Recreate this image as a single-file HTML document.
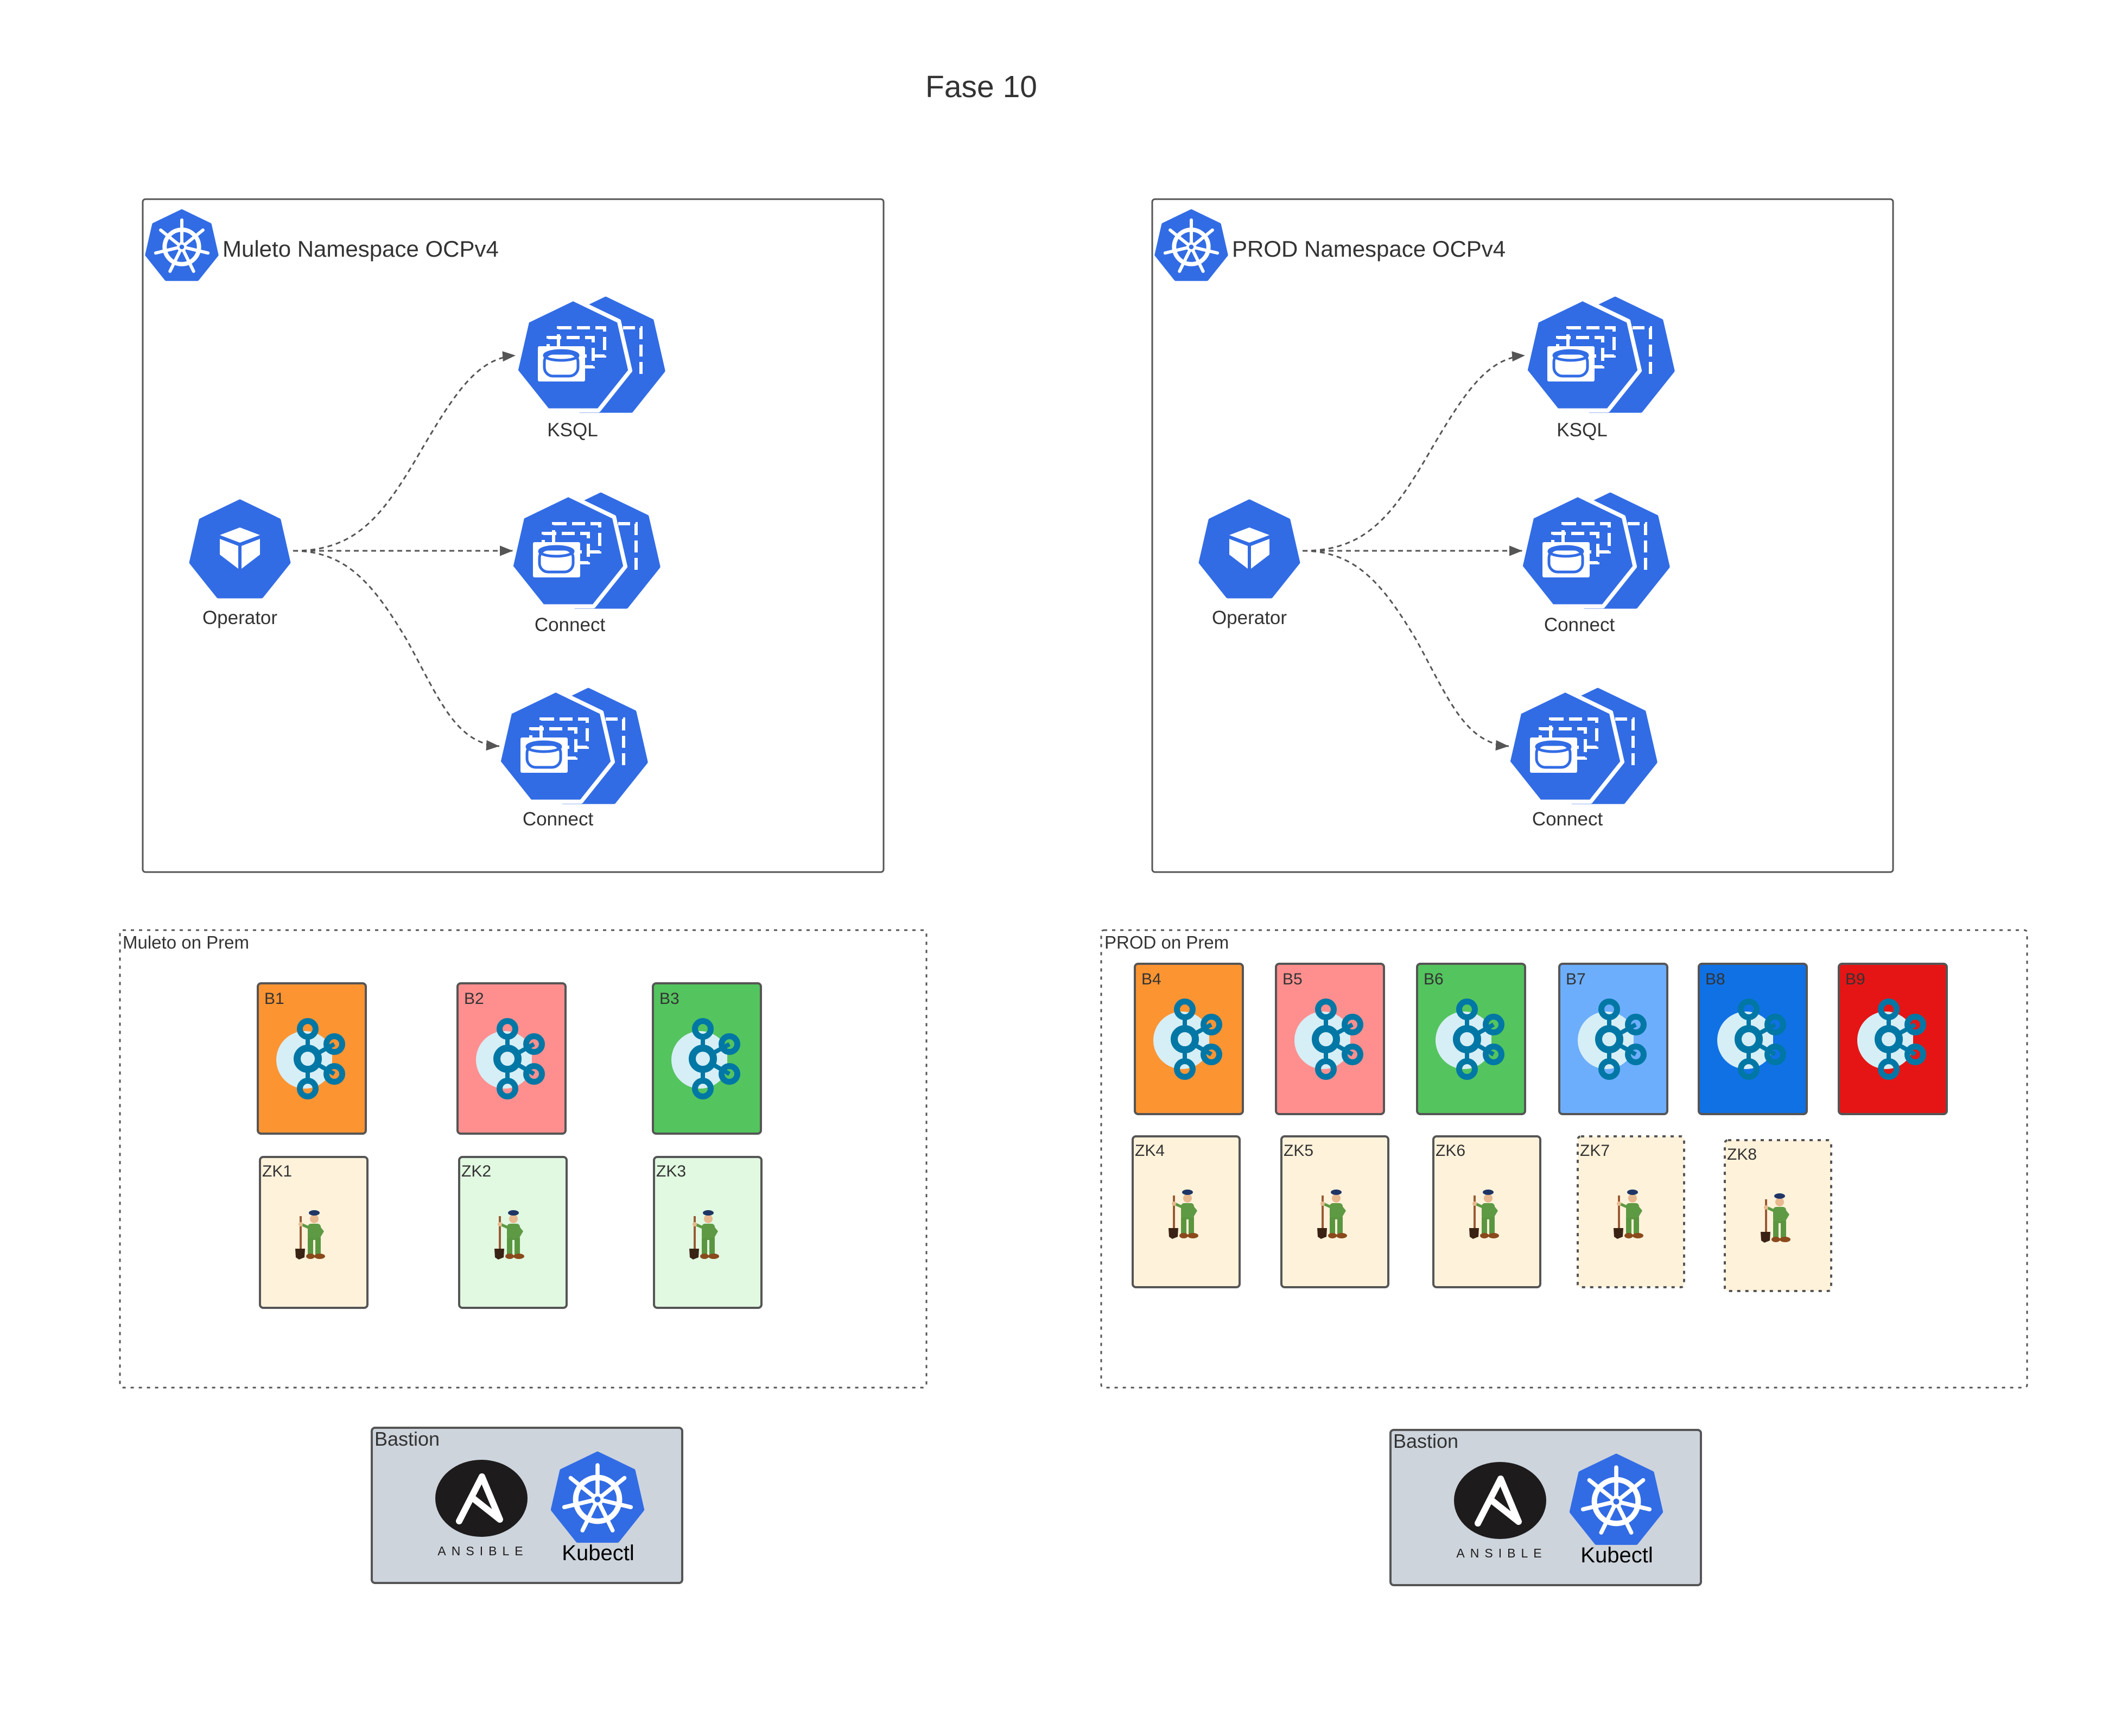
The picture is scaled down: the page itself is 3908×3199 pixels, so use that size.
<!DOCTYPE html>
<html><head><meta charset="utf-8"><style>
html,body{margin:0;padding:0;background:#fff}
svg{display:block}
text{font-family:"Liberation Sans",Arial,sans-serif;fill:#333}
</style></head><body>
<svg width="3908" height="3199" viewBox="0 0 3908 3199" xmlns="http://www.w3.org/2000/svg">
<defs>
<polygon id="h7" points="0,-1 0.7818,-0.6235 0.9749,0.2225 0.4339,0.901 -0.4339,0.901 -0.9749,0.2225 -0.7818,-0.6235"/>
<g id="wheel" fill="none" stroke="#fff" stroke-linecap="round">
<circle r="0.48" stroke-width="0.12"/>
<g stroke-width="0.09">
<line x1="0" y1="-0.1" x2="0" y2="-0.75"/>
<line x1="0.08" y1="-0.06" x2="0.59" y2="-0.47"/>
<line x1="0.1" y1="0.02" x2="0.73" y2="0.17"/>
<line x1="0.04" y1="0.09" x2="0.33" y2="0.68"/>
<line x1="-0.04" y1="0.09" x2="-0.33" y2="0.68"/>
<line x1="-0.1" y1="0.02" x2="-0.73" y2="0.17"/>
<line x1="-0.08" y1="-0.06" x2="-0.59" y2="-0.47"/>
</g>
<circle r="0.1" fill="#326ce5" stroke-width="0.07"/>
</g>
<g id="k8s">
<use href="#h7" fill="#326ce5" stroke="#326ce5" stroke-width="0.1" stroke-linejoin="round"/>
<use href="#wheel"/>
</g>
<g id="deploy">
<use href="#h7" transform="translate(60,0) scale(108)" fill="#326ce5" stroke="#326ce5" stroke-width="0.08" stroke-linejoin="round"/>
<g fill="none" stroke="#fff" stroke-width="6" stroke-dasharray="22,10">
<path d="M92,-55 H125 V35"/>
</g>
<use href="#h7" transform="scale(108)" fill="#326ce5" stroke="#fff" stroke-width="0.07" stroke-linejoin="round"/>
<g fill="none" stroke="#fff" stroke-width="6" stroke-dasharray="24,10">
<rect x="-27" y="-55" width="85" height="52"/>
<rect x="-46" y="-37" width="83" height="54"/>
</g>
<rect x="-65" y="-21" width="87" height="65" rx="3" fill="#fff"/>
<rect x="-53" y="-8" width="62" height="42" rx="16" fill="none" stroke="#326ce5" stroke-width="5"/>
<ellipse cx="-22" cy="-4" rx="31" ry="9" fill="none" stroke="#326ce5" stroke-width="5"/>
</g>
<g id="kafka">
<clipPath id="kc"><rect x="-70" y="-70" width="115" height="140"/></clipPath>
<circle cx="-5" cy="2" r="53" fill="#d6eef5" clip-path="url(#kc)"/>
<g fill="none" stroke="#0077a5">
<line x1="0" y1="-45" x2="0" y2="45" stroke-width="8"/>
<line x1="0" y1="0" x2="49" y2="-27" stroke-width="8"/>
<line x1="0" y1="0" x2="49" y2="28" stroke-width="8"/>
<circle r="19.5" stroke-width="13" fill="#d6eef5"/>
<circle cy="-55" r="14.5" stroke-width="11"/>
<circle cy="55" r="14.5" stroke-width="11"/>
<circle cx="49" cy="-27" r="14.5" stroke-width="11"/>
<circle cx="49" cy="28" r="14.5" stroke-width="11"/>
</g>
</g>
<g id="zk">
<line x1="-19" y1="-32" x2="-19" y2="30" stroke="#9a5a33" stroke-width="4"/>
<path d="M-29,28 L-11,28 L-12,44 L-22,48 L-28,44 Z" fill="#3a2314"/>
<rect x="-6" y="-18" width="24" height="30" rx="6" fill="#5e9a44"/>
<path d="M-5,-14 L-18,-20 L-20,-15 L-4,-8 Z" fill="#5e9a44"/>
<path d="M16,-14 L24,-4 L18,6 L14,0 Z" fill="#5e9a44"/>
<rect x="-6" y="8" width="10" height="32" fill="#5a9640"/>
<rect x="8" y="8" width="10" height="32" fill="#5a9640"/>
<ellipse cx="-1" cy="42" rx="8" ry="5" fill="#8a4a1c"/>
<ellipse cx="16" cy="42" rx="10" ry="5" fill="#8a4a1c"/>
<circle cx="6" cy="-27" r="8" fill="#e8b98f"/>
<ellipse cx="6" cy="-38" rx="10" ry="5" fill="#1f3565"/>
<circle cx="-19" cy="-17" r="4" fill="#e8b98f"/>
</g>
<marker id="ah" viewBox="0 0 10 10" refX="10" refY="5" markerWidth="24" markerHeight="24" markerUnits="userSpaceOnUse" orient="auto"><path d="M0,1 L10,5 L0,9 Z" fill="#555"/></marker>
<g id="nsbody">
<rect x="263" y="367" width="1365" height="1240" rx="5" fill="none" stroke="#555" stroke-width="3"/>
<use href="#k8s" transform="translate(335,455) scale(66)"/>
<g fill="none" stroke="#555" stroke-width="3" stroke-dasharray="9,7" marker-end="url(#ah)">
<path d="M540,1015 C650,1015 700,960 770,840 C840,720 880,660 950,655"/>
<path d="M540,1015 L945,1015"/>
<path d="M540,1015 C640,1015 690,1080 750,1180 C810,1290 840,1370 920,1375"/>
</g>
<use href="#h7" transform="translate(442,1016) scale(92)" fill="#326ce5" stroke="#326ce5" stroke-width="0.08" stroke-linejoin="round"/>
<g transform="translate(442,1010)">
<path d="M-37,-24 L0,-38 L37,-24 L0,-10 Z" fill="#fff"/>
<path d="M-37,-17 L-3,-4 L-3,38 L-37,12 Z" fill="#fff"/>
<path d="M37,-17 L3,-4 L3,38 L37,12 Z" fill="#fff"/>
</g>
<text x="442" y="1150" font-size="35" text-anchor="middle">Operator</text>
<use href="#deploy" transform="translate(1056,659)"/>
<text x="1055" y="804" font-size="35" text-anchor="middle">KSQL</text>
<use href="#deploy" transform="translate(1047,1020)"/>
<text x="1050" y="1163" font-size="35" text-anchor="middle">Connect</text>
<use href="#deploy" transform="translate(1024,1380)"/>
<text x="1028" y="1521" font-size="35" text-anchor="middle">Connect</text>
</g>
</defs>

<text x="1808" y="179" font-size="57" text-anchor="middle">Fase 10</text>

<use href="#nsbody"/>
<text x="410" y="473" font-size="42">Muleto Namespace OCPv4</text>
<use href="#nsbody" transform="translate(1860,0)"/>
<text x="2270" y="473" font-size="42">PROD Namespace OCPv4</text>

<!-- Muleto on Prem -->
<rect x="221" y="1714" width="1486" height="843" rx="5" fill="none" stroke="#555" stroke-width="3" stroke-dasharray="6,9"/>
<text x="226" y="1748" font-size="33">Muleto on Prem</text>
<g stroke="#555" stroke-width="4">
<rect x="475" y="1812" width="199" height="277" rx="6" fill="#fc9432"/>
<rect x="843" y="1812" width="199" height="277" rx="6" fill="#ff8f8f"/>
<rect x="1203" y="1812" width="199" height="277" rx="6" fill="#54c45e"/>
<rect x="479" y="2132" width="198" height="278" rx="6" fill="#fff2db"/>
<rect x="846" y="2132" width="198" height="278" rx="6" fill="#e1f8e1"/>
<rect x="1205" y="2132" width="198" height="278" rx="6" fill="#e1f8e1"/>
</g>
<g font-size="30">
<text x="487" y="1850">B1</text><text x="855" y="1850">B2</text><text x="1215" y="1850">B3</text>
<text x="483" y="2168">ZK1</text><text x="850" y="2168">ZK2</text><text x="1209" y="2168">ZK3</text>
</g>
<use href="#kafka" transform="translate(567,1951)"/>
<use href="#kafka" transform="translate(935,1951)"/>
<use href="#kafka" transform="translate(1295,1951)"/>
<use href="#zk" transform="translate(573,2273)"/>
<use href="#zk" transform="translate(940,2273)"/>
<use href="#zk" transform="translate(1299,2273)"/>

<!-- PROD on Prem -->
<rect x="2029" y="1714" width="1706" height="843" rx="5" fill="none" stroke="#555" stroke-width="3" stroke-dasharray="6,9"/>
<text x="2035" y="1748" font-size="33">PROD on Prem</text>
<g stroke="#555" stroke-width="4">
<rect x="2091" y="1776" width="199" height="277" rx="6" fill="#fc9432"/>
<rect x="2351" y="1776" width="199" height="277" rx="6" fill="#ff8f8f"/>
<rect x="2611" y="1776" width="199" height="277" rx="6" fill="#54c45e"/>
<rect x="2873" y="1776" width="199" height="277" rx="6" fill="#6caefc"/>
<rect x="3130" y="1776" width="199" height="277" rx="6" fill="#1071e5"/>
<rect x="3388" y="1776" width="199" height="277" rx="6" fill="#e51515"/>
<rect x="2087" y="2094" width="197" height="278" rx="6" fill="#fff2db"/>
<rect x="2361" y="2094" width="197" height="278" rx="6" fill="#fff2db"/>
<rect x="2641" y="2094" width="197" height="278" rx="6" fill="#fff2db"/>
</g>
<g stroke="#555" stroke-width="4" stroke-dasharray="6,9" fill="#fff2db">
<rect x="2907" y="2094" width="196" height="278" rx="6"/>
<rect x="3178" y="2101" width="196" height="278" rx="6"/>
</g>
<g font-size="30">
<text x="2103" y="1814">B4</text><text x="2363" y="1814">B5</text><text x="2623" y="1814">B6</text>
<text x="2885" y="1814">B7</text><text x="3142" y="1814">B8</text><text x="3400" y="1814">B9</text>
<text x="2091" y="2130">ZK4</text><text x="2365" y="2130">ZK5</text><text x="2645" y="2130">ZK6</text>
<text x="2911" y="2130">ZK7</text><text x="3182" y="2137">ZK8</text>
</g>
<use href="#kafka" transform="translate(2183,1915)"/>
<use href="#kafka" transform="translate(2443,1915)"/>
<use href="#kafka" transform="translate(2703,1915)"/>
<use href="#kafka" transform="translate(2965,1915)"/>
<use href="#kafka" transform="translate(3222,1915)"/>
<use href="#kafka" transform="translate(3480,1915)"/>
<use href="#zk" transform="translate(2182,2235)"/>
<use href="#zk" transform="translate(2456,2235)"/>
<use href="#zk" transform="translate(2736,2235)"/>
<use href="#zk" transform="translate(3002,2235)"/>
<use href="#zk" transform="translate(3273,2242)"/>

<!-- Bastions -->
<g id="bastion">
<rect x="685" y="2631" width="572" height="286" rx="6" fill="#cdd4dc" stroke="#555" stroke-width="4"/>
<text x="690" y="2664" font-size="36">Bastion</text>
<ellipse cx="887" cy="2761" rx="85" ry="71" fill="#1d1b1c"/>
<path d="M846,2803 L888,2721 L921,2800 L873,2762" fill="none" stroke="#fff" stroke-width="12" stroke-linejoin="round" stroke-linecap="round"/>
<text x="890" y="2866" font-size="23" text-anchor="middle" letter-spacing="10" style="fill:#1d1b1c">ANSIBLE</text>
<use href="#k8s" transform="translate(1101,2763) scale(84)"/>
<text x="1102" y="2875" font-size="40" text-anchor="middle" style="fill:#000">Kubectl</text>
</g>
<use href="#bastion" transform="translate(1877,4)"/>
</svg>
</body></html>
